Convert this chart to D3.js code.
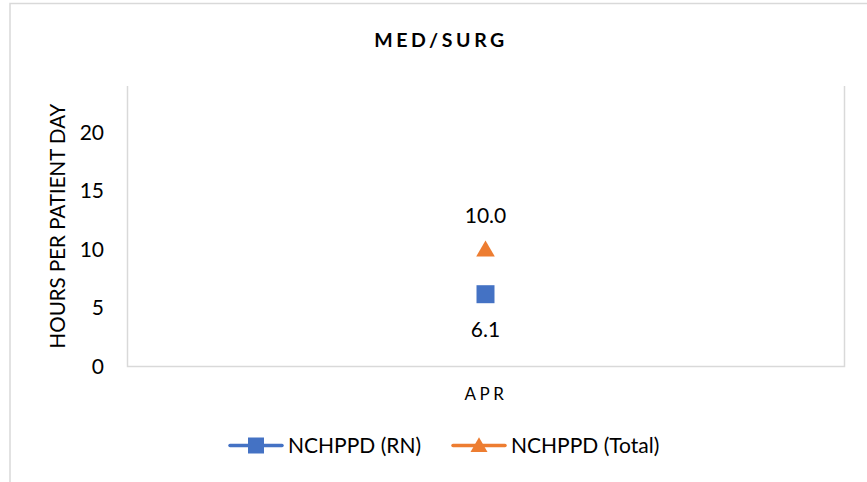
<!DOCTYPE html>
<html>
<head>
<meta charset="utf-8">
<script src="https://cdn.jsdelivr.net/npm/d3@7"></script>
<style>
  body { margin: 0; background: #fff; }
  text { font-family: Lato, "Open Sans", sans-serif; fill: #000; }
</style>
</head>
<body>
<div id="chart"></div>
<script>
// data
var months = ["APR"];
var seriesNames = ["NCHPPD (RN)", "NCHPPD (Total)"];
var rnValues = [6.1];
var totalValues = [10.0];
var yTicks = [0, 5, 10, 15, 20];

var W = 867, H = 482;
var margin = {top: 86, right: 23, bottom: 116, left: 127},
    width = W - margin.left - margin.right,
    height = H - margin.top - margin.bottom;

var colors = ["#4472C4", "#ED7D31"];

var svg = d3.select("#chart")
  .append("svg")
    .attr("width", W)
    .attr("height", H);

// outer chart frame
svg.append("rect")
  .attr("x", 10).attr("y", 3.5)
  .attr("width", 900).attr("height", 520)
  .attr("fill", "none")
  .attr("stroke", "#d9d9d9")
  .attr("stroke-width", 1.5);

// title
svg.append("text")
  .attr("x", 441).attr("y", 47)
  .attr("text-anchor", "middle")
  .style("font-size", "19.5px")
  .style("font-weight", "bold")
  .style("letter-spacing", "3.6px")
  .text("MED/SURG");

var g = svg.append("g")
  .attr("transform", "translate(" + margin.left + "," + margin.top + ")");

var x = d3.scaleBand()
  .domain(months)
  .range([0, width]);

var y = d3.scaleLinear()
  .domain([0, 24])
  .range([height + 0.5, 0]);

// plot area sides (no top)
g.append("path")
  .attr("d", "M0.5,0V" + (height + 0.5) + "H" + (width + 0.5) + "V0")
  .attr("fill", "none")
  .attr("stroke", "#d9d9d9")
  .attr("stroke-width", 1.5);

// y axis
var yAxis = g.append("g")
  .call(d3.axisLeft(y).tickValues(yTicks).tickSize(0).tickPadding(23));
yAxis.select(".domain").remove();
yAxis.selectAll("text")
  .style("font-size", "21px")
  .style("font-family", "Lato, 'Open Sans', sans-serif")
  .attr("fill", "#000");

// x axis
var xAxis = g.append("g")
  .attr("transform", "translate(0," + height + ")")
  .call(d3.axisBottom(x).tickSize(0).tickPadding(22));
xAxis.select(".domain").remove();
xAxis.selectAll("text")
  .style("font-size", "17px")
  .style("letter-spacing", "3.5px")
  .attr("dx", "0.5px")
  .style("font-family", "Lato, 'Open Sans', sans-serif")
  .attr("fill", "#000");

// y axis title
svg.append("text")
  .attr("transform", "translate(65,226) rotate(-90)")
  .attr("text-anchor", "middle")
  .style("font-size", "20.5px")
  .text("HOURS PER PATIENT DAY");

var sq = d3.symbol().type(d3.symbolSquare).size(324);
var tri = d3.symbol().type(d3.symbolTriangle).size(150);

// RN points
g.selectAll(".rn")
  .data(rnValues)
  .enter().append("path")
    .attr("class", "rn")
    .attr("d", sq)
    .attr("transform", function(d, i) { return "translate(" + (x(months[i]) + x.bandwidth() / 2) + "," + (y(d) - 1) + ")"; })
    .attr("fill", colors[0]);

g.selectAll(".rnlab")
  .data(rnValues)
  .enter().append("text")
    .attr("x", function(d, i) { return x(months[i]) + x.bandwidth() / 2; })
    .attr("y", function(d) { return y(d) + 42; })
    .attr("text-anchor", "middle")
    .style("font-size", "21px")
    .text(function(d) { return d.toFixed(1); });

// Total points
g.selectAll(".tot")
  .data(totalValues)
  .enter().append("path")
    .attr("class", "tot")
    .attr("d", tri)
    .attr("transform", function(d, i) { return "translate(" + (x(months[i]) + x.bandwidth() / 2) + "," + (y(d) + 1.5) + ")"; })
    .attr("fill", colors[1]);

g.selectAll(".totlab")
  .data(totalValues)
  .enter().append("text")
    .attr("x", function(d, i) { return x(months[i]) + x.bandwidth() / 2; })
    .attr("y", function(d) { return y(d) - 26.5; })
    .attr("text-anchor", "middle")
    .style("font-size", "21px")
    .text(function(d) { return d.toFixed(1); });

// legend
var legX = [229, 452];
var leg = svg.selectAll(".leg")
  .data(seriesNames)
  .enter().append("g")
    .attr("class", "leg")
    .attr("transform", function(d, i) { return "translate(" + legX[i] + ",445.5)"; });

leg.append("line")
  .attr("x1", 1).attr("x2", 53)
  .attr("stroke", function(d, i) { return colors[i]; })
  .attr("stroke-width", 3.5)
  .attr("stroke-linecap", "round");

leg.append("path")
  .attr("d", function(d, i) { return i === 0 ? d3.symbol().type(d3.symbolSquare).size(256)() : d3.symbol().type(d3.symbolTriangle).size(125)(); })
  .attr("transform", function(d, i) { return i === 0 ? "translate(27,0)" : "translate(27,1.5)"; })
  .attr("fill", function(d, i) { return colors[i]; });

leg.append("text")
  .attr("x", 59).attr("y", 7.5)
  .style("font-size", "21px")
  .text(function(d) { return d; });
</script>
</body>
</html>
